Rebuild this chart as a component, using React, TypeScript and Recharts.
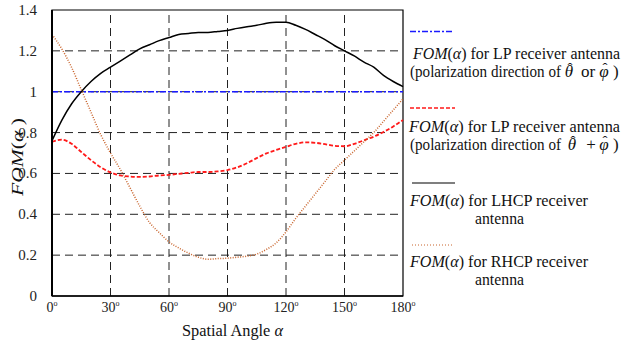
import React from 'react'
import { LineChart, Line, XAxis, YAxis, ReferenceLine, ReferenceArea } from 'recharts'

// spatial angle alpha in degrees
const angles = [0, 5, 10, 15, 20, 25, 30, 35, 40, 45, 50, 55, 60, 65, 70, 75, 80, 85, 90,
  95, 100, 105, 110, 115, 120, 125, 130, 135, 140, 145, 150, 155, 160, 165, 170, 175, 180]

// LP receiver, polarization theta or phi
const lpSingle = [1, 1, 1, 1, 1, 1, 1, 1, 1, 1, 1, 1, 1, 1, 1, 1, 1, 1, 1,
  1, 1, 1, 1, 1, 1, 1, 1, 1, 1, 1, 1, 1, 1, 1, 1, 1, 1]

// LP receiver, polarization theta + phi
const lpSum = [0.755, 0.765, 0.745, 0.705, 0.665, 0.63, 0.605, 0.59, 0.585, 0.583, 0.585, 0.59, 0.593, 0.598, 0.603, 0.607, 0.607, 0.61, 0.616,
  0.63, 0.65, 0.675, 0.698, 0.715, 0.73, 0.745, 0.752, 0.75, 0.743, 0.735, 0.733, 0.745, 0.762, 0.78, 0.803, 0.83, 0.862]

// LHCP receiver
const lhcp = [0.76, 0.86, 0.94, 1.0, 1.05, 1.09, 1.12, 1.15, 1.18, 1.21, 1.23, 1.25, 1.265, 1.28, 1.285, 1.29, 1.29, 1.295, 1.3,
  1.31, 1.318, 1.325, 1.335, 1.34, 1.34, 1.325, 1.305, 1.28, 1.255, 1.225, 1.2, 1.175, 1.145, 1.12, 1.08, 1.05, 1.025]

// RHCP receiver
const rhcp = [1.28, 1.21, 1.12, 1.01, 0.9, 0.79, 0.7, 0.62, 0.53, 0.44, 0.36, 0.31, 0.265, 0.235, 0.21, 0.19, 0.18, 0.183, 0.185,
  0.19, 0.195, 0.205, 0.228, 0.26, 0.314, 0.38, 0.44, 0.5, 0.56, 0.62, 0.665, 0.71, 0.755, 0.8, 0.855, 0.91, 0.965]

const xTicks = [0, 30, 60, 90, 120, 150, 180]
const yTicks = [0, 0.2, 0.4, 0.6, 0.8, 1, 1.2, 1.4]
const xGrid = [30, 60, 90, 120, 150]
const yGrid = [0.2, 0.4, 0.6, 0.8, 1, 1.2]

const data = angles.map((a, i) => ({
  a,
  lpSingle: lpSingle[i],
  lpSum: lpSum[i],
  lhcp: lhcp[i],
  rhcp: rhcp[i]
}))

const serif = "'Liberation Serif', 'Times New Roman', serif"
const ink = '#111'

const XTick = ({ x, y, payload }: any) => (
  <text x={x} y={y + 8} textAnchor="middle" style={{ fontFamily: serif }} fontSize={14} fill="#222">
    {payload.value}
    <tspan fontSize={8} dy={-6}>o</tspan>
  </text>
)

const YTick = ({ x, y, payload }: any) => (
  <text x={x - 7} y={y + 5} textAnchor="end" style={{ fontFamily: serif }} fontSize={15} fill="#222">
    {payload.value}
  </text>
)

// "FOM(α) ..." legend line, stretched to the width seen in the reference
const FomLine = ({ x, y, len, rest }: { x: number; y: number; len: number; rest: string }) => (
  <text x={x} y={y} fontSize={17} fill={ink} textLength={len} lengthAdjust="spacingAndGlyphs">
    <tspan fontStyle="italic">FOM</tspan>(<tspan fontStyle="italic">α</tspan>){' ' + rest}
  </text>
)

// italic letter with a hat
const HatChar = ({ x, y, ch }: { x: number; y: number; ch: string }) => (
  <g>
    <text x={x} y={y} fontSize={17} fontStyle="italic" fill={ink} textAnchor="middle">{ch}</text>
    <text x={x + 1} y={y - 4} fontSize={15} fill={ink} textAnchor="middle">ˆ</text>
  </g>
)

const PolLine = ({ y, op, opX, thetaX }: { y: number; op: string; opX: number; thetaX: number }) => (
  <g>
    <text x={410} y={y} fontSize={17} fill={ink} textLength={151} lengthAdjust="spacingAndGlyphs">(polarization direction of</text>
    <HatChar x={thetaX} y={y} ch="θ" />
    <text x={opX} y={y} fontSize={17} fill={ink} textAnchor="middle">{op}</text>
    <HatChar x={604} y={y} ch="φ" />
    <text x={613} y={y} fontSize={17} fill={ink}>)</text>
  </g>
)

export default function App() {
  return (
    <div style={{ position: 'absolute', left: 0, top: 0, width: 625, height: 342, background: '#fff', overflow: 'hidden', fontFamily: serif }}>
      <LineChart width={625} height={342} data={data} margin={{ top: 10, right: 222, bottom: 16, left: 12 }}>
        <XAxis
          dataKey="a"
          type="number"
          domain={[0, 180]}
          ticks={xTicks}
          tick={<XTick />}
          tickLine={false}
          axisLine={{ stroke: '#000', strokeWidth: 1.5 }}
          height={30}
        />
        <YAxis
          type="number"
          domain={[0, 1.4]}
          ticks={yTicks}
          tick={<YTick />}
          tickLine={false}
          axisLine={{ stroke: '#000', strokeWidth: 2 }}
          width={40}
        />
        <ReferenceArea x1={0} x2={180} y1={0} y2={1.4} fill="none" stroke="#000" strokeWidth={1.2} />
        {xGrid.map(v => (
          <ReferenceLine key={'x' + v} x={v} stroke="#222" strokeDasharray="8 5" strokeWidth={1} />
        ))}
        {yGrid.map(v => (
          <ReferenceLine key={'y' + v} y={v} stroke="#222" strokeDasharray="8 5" strokeWidth={1} />
        ))}
        <Line dataKey="lpSingle" stroke="#1a1aff" strokeWidth={1.5} strokeDasharray="6 2 2 2" dot={false} isAnimationActive={false} />
        <Line dataKey="lpSum" type="monotone" stroke="#ff1a1a" strokeWidth={1.8} strokeDasharray="4 2" dot={false} isAnimationActive={false} />
        <Line dataKey="lhcp" type="monotone" stroke="#000" strokeWidth={1.5} dot={false} isAnimationActive={false} />
        <Line dataKey="rhcp" type="monotone" stroke="#c8642c" strokeWidth={1.5} strokeDasharray="1 1.5" dot={false} isAnimationActive={false} />
      </LineChart>

      {/* axis titles and legend */}
      <svg width={625} height={342} style={{ position: 'absolute', left: 0, top: 0, pointerEvents: 'none', fontFamily: serif }}>
        <text x={182} y={336} fontSize={17} fill={ink} textLength={101} lengthAdjust="spacingAndGlyphs">
          Spatial Angle <tspan fontStyle="italic">α</tspan>
        </text>
        <text
          x={0} y={0} fontSize={17} fill={ink} textLength={78} lengthAdjust="spacingAndGlyphs"
          transform="translate(23, 196) rotate(-90)"
        >
          <tspan fontStyle="italic">FOM</tspan>(<tspan fontStyle="italic">α</tspan> )
        </text>

        <line x1={410} y1={31.5} x2={453} y2={31.5} stroke="#1a1aff" strokeWidth={1.5} strokeDasharray="6 2 2 2" />
        <FomLine x={413} y={59} len={207} rest="for LP receiver antenna" />
        <PolLine y={77} op="or" opX={588} thetaX={569} />

        <line x1={410} y1={108} x2={455} y2={108} stroke="#ff1a1a" strokeWidth={1.5} strokeDasharray="4 2" />
        <FomLine x={409} y={132} len={211} rest="for LP receiver antenna" />
        <PolLine y={150} op="+" opX={591} thetaX={572} />

        <line x1={412} y1={183} x2={455} y2={183} stroke="#000" strokeWidth={1.2} />
        <FomLine x={410} y={206} len={178} rest="for LHCP receiver" />
        <text x={475} y={224} fontSize={17} fill={ink} textLength={49} lengthAdjust="spacingAndGlyphs">antenna</text>

        <line x1={412} y1={245} x2={453} y2={245} stroke="#c8642c" strokeWidth={1} strokeDasharray="1 2" />
        <FomLine x={410} y={267} len={178} rest="for RHCP receiver" />
        <text x={475} y={285} fontSize={17} fill={ink} textLength={49} lengthAdjust="spacingAndGlyphs">antenna</text>
      </svg>
    </div>
  )
}
